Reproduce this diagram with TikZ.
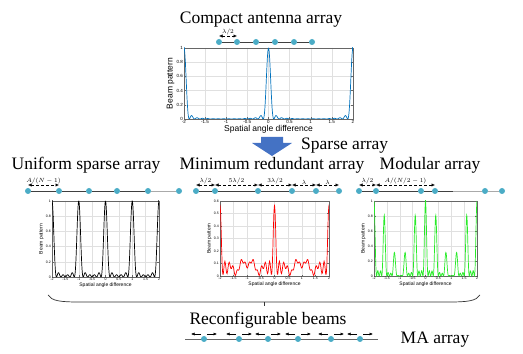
\documentclass[tikz,border=0pt]{standalone}
\usepackage{fontspec}
\setmainfont{Liberation Serif}
\setsansfont{Liberation Sans}
\usepackage{pgfplots}
\pgfplotsset{compat=1.18}
\usetikzlibrary{calc,arrows.meta,positioning}
\definecolor{elemcol}{RGB}{75,172,198}
\definecolor{linedark}{RGB}{64,64,64}
\definecolor{linelight}{RGB}{170,170,170}
\definecolor{arrowblue}{RGB}{68,114,196}
\definecolor{matblue}{RGB}{0,114,189}
\definecolor{patgreen}{RGB}{40,235,40}
\tikzset{
  elem/.style={circle, fill=elemcol, inner sep=0pt, minimum size=6pt},
  darkline/.style={draw=linedark, line width=0.8pt},
  lightline/.style={draw=linelight, line width=0.8pt},
  spacing/.style={{Latex[length=3.5pt,width=3.2pt]}-{Latex[length=3.5pt,width=3.2pt]}, densely dashed, line width=0.5pt},
  spacelabel/.style={font=\fontsize{6.5}{7}\selectfont, inner sep=0.5pt},
  bigtext/.style={font=\fontsize{17.5}{20}\selectfont, inner sep=0pt, anchor=base},
  moveArrow/.style={-{Latex[length=3.5pt,width=3pt]}, line width=0.5pt},
  bracepath/.style={draw=black!80, line width=0.7pt}
}
\pgfplotsset{
  beamaxis/.style={scale only axis, anchor=south west,
    xmin=-2, xmax=2, ymin=0, ymax=1,
    xtick={-2,-1.5,...,2}, ytick={0,0.2,0.4,0.6,0.8,1},
    xticklabel={\pgfmathprintnumber[assume math mode=true]{\tick}},
    yticklabel={\pgfmathprintnumber[assume math mode=true]{\tick}},
    grid=major, major grid style={black!12, line width=0.3pt},
    axis line style={black!60, line width=0.4pt},
    tick style={black!60, line width=0.3pt}, major tick length=1.5pt,
    xlabel={Spatial angle difference}, ylabel={Beam pattern},
    every axis plot/.append style={line width=0.7pt, no markers}},
  bigaxis/.style={beamaxis,
    ticklabel style={font=\sffamily\fontsize{4.5}{5}\selectfont, inner sep=1pt},
    label style={font=\sffamily\fontsize{8.5}{9}\selectfont, inner sep=1pt}},
  smallaxis/.style={beamaxis,
    ticklabel style={font=\sffamily\fontsize{3.5}{4}\selectfont, inner sep=1pt},
    label style={font=\sffamily\fontsize{5}{6}\selectfont, inner sep=1pt}}
}
\begin{document}
\begin{tikzpicture}[x=1pt, y=1pt]
  \useasboundingbox (0,0) rectangle (523,354);
  \node[bigtext] (compact) at (261,330) {Compact antenna array};
  \foreach \x [count=\i] in {219,237,256,275,294,312}
    \node[elem] (c\i) at (\x,312) {};
  \draw[darkline] (c1) -- (c2) -- (c3) -- (c4) -- (c5) -- (c6);
  \draw[spacing] ([yshift=6pt]c1.center) -- ([yshift=6pt]c2.center) node[midway, above, spacelabel] {$\lambda/2$};
  \begin{axis}[bigaxis, at={(184pt,235pt)}, width=169pt, height=71pt]
    \addplot[matblue, domain=-1.9999:1.9999, samples=400] {(sin(1440*x)/(16*sin(90*x)))^2};
  \end{axis}
  \fill[arrowblue] (261,217) -- (283,217) -- (283,211) -- (292,211) -- (272,198) -- (252,211) -- (261,211) -- cycle;
  \node[bigtext, anchor=base west] (sparse) at (301,204) {Sparse array};
  \node[bigtext] (uniform) at (86,184) {Uniform sparse array};
  \node[bigtext] (redundant) at (272,184) {Minimum redundant array};
  \node[bigtext] (modular) at (430,184) {Modular array};
  \foreach \x [count=\i] in {28,59,89,117,148,179}
    \node[elem] (u\i) at (\x,163) {};
  \draw[darkline] (u1) -- (u2) -- (u3) -- (u4) -- (u5);
  \draw[lightline] (u5) -- (u6);
  \draw[spacing] ([yshift=6pt]u1.center) -- ([yshift=6pt]u2.center) node[midway, above, spacelabel] {$A/(N-1)$};
  \foreach \x [count=\i] in {196,215,258,292,316,339}
    \node[elem] (m\i) at (\x,163) {};
  \draw[darkline] (m1) -- (m2) -- (m3) -- (m4);
  \draw[lightline] (m4) -- (m5) -- (m6);
  \draw[spacing] ([yshift=6pt]m1.center) -- ([yshift=6pt]m2.center) node[midway, above, spacelabel] {$\lambda/2$};
  \draw[spacing] ([yshift=6pt]m2.center) -- ([yshift=6pt]m3.center) node[midway, above, spacelabel] {$5\lambda/2$};
  \draw[spacing] ([yshift=6pt]m3.center) -- ([yshift=6pt]m4.center) node[midway, above, spacelabel] {$3\lambda/2$};
  \draw[spacing] ([yshift=6pt]m4.center) -- ([yshift=6pt]m5.center) node[midway, above, spacelabel] {$\lambda$};
  \draw[spacing] ([yshift=6pt]m5.center) -- ([yshift=6pt]m6.center) node[midway, above, spacelabel] {$\lambda$};
  \foreach \x [count=\i] in {359,376,421,435,485,502}
    \node[elem] (d\i) at (\x,163) {};
  \coordinate (dsplit) at (453,163);
  \draw[darkline] (d1) -- (d2) -- (d3) -- (d4) -- (dsplit);
  \draw[lightline] (dsplit) -- (d5) -- (d6);
  \draw[spacing] ([yshift=6pt]d1.center) -- ([yshift=6pt]d2.center) node[midway, above, spacelabel] {$\lambda/2$};
  \draw[spacing] ([yshift=6pt]d2.center) -- ([yshift=6pt]d4.center) node[midway, above, spacelabel] {$A/(N/2-1)$};
  \begin{axis}[smallaxis, at={(52pt,77pt)}, width=107pt, height=76pt]
    \addplot[black, domain=-1.9999:1.9999, samples=400] {(sin(1080*x)/(6*sin(180*x)))^2};
  \end{axis}
  \begin{axis}[smallaxis, at={(220pt,78pt)}, width=109pt, height=75pt, ymax=0.6, ytick={0,0.1,0.2,0.3,0.4,0.5,0.6}]
    \addplot[red, domain=-2:2, samples=201] {0.57/36*((1+cos(180*x)+cos(1080*x)+cos(1620*x)+cos(1980*x)+cos(2340*x))^2+(sin(180*x)+sin(1080*x)+sin(1620*x)+sin(1980*x)+sin(2340*x))^2)};
  \end{axis}
  \begin{axis}[smallaxis, at={(374pt,78pt)}, width=103pt, height=75pt]
    \addplot[patgreen, domain=-2:2, samples=401] {abs(cos(90*x))*(4+6*cos(900*x)+4*cos(1800*x)+2*cos(2700*x))/16};
  \end{axis}
  \coordinate (bl) at (48,59);
  \coordinate (br) at (480,59);
  \coordinate (bm) at (264,52);
  \draw[bracepath] (bl) .. controls (52,53) and (60,52) .. (80,52) -- (448,52) .. controls (468,52) and (476,53) .. (br);
  \draw[bracepath] (bm) -- ++(0,-4);
  \node[bigtext] (reconf) at (268,30) {Reconfigurable beams};
  \coordinate (maL) at (185,15);
  \coordinate (maR) at (378,15);
  \draw[draw=black!60, line width=0.7pt] (maL) -- (maR);
  \foreach \x [count=\i] in {204,239,268,298,331,360} {
    \node[elem] (a\i) at (\x,15) {};
    \draw[moveArrow] ([shift={(-3,5)}]a\i.center) -- ++(-10,0);
    \draw[moveArrow] ([shift={(3,5)}]a\i.center) -- ++(10,0);
  }
  \node[bigtext] (maarray) at (435,10) {MA array};
\end{tikzpicture}
\end{document}
